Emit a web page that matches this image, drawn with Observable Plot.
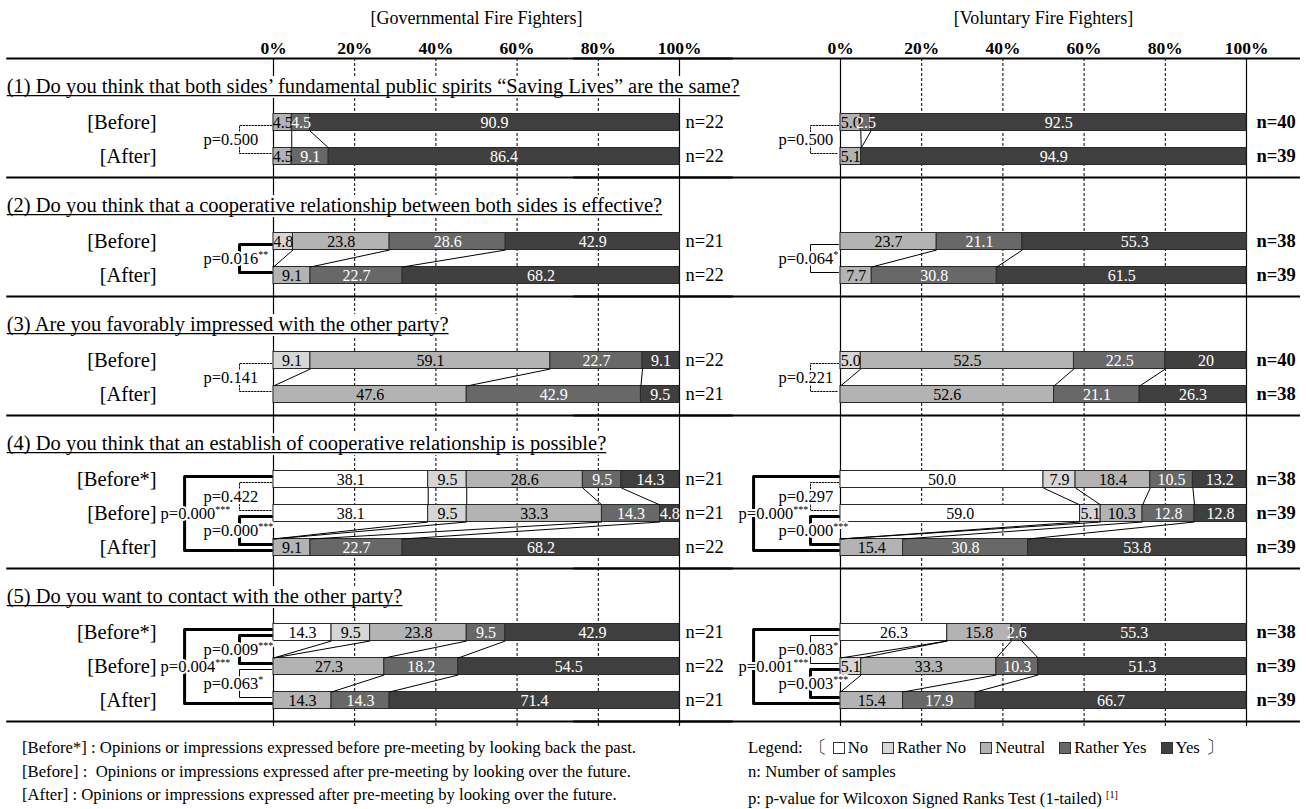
<!DOCTYPE html>
<html>
<head>
<meta charset="utf-8">
<script src="https://cdn.jsdelivr.net/npm/d3@7"></script>
<script src="https://cdn.jsdelivr.net/npm/@observablehq/plot@0.6"></script>
<style>
  body { margin: 0; background: #fff; font-family: "Liberation Serif", "Times New Roman", serif; color: #000; }
  #wrap { position: relative; width: 1306px; height: 809px; overflow: hidden; }
  #chart svg { display: block; }
  #chart svg text { font-family: "Liberation Serif", "Times New Roman", serif; }
  .foot { position: absolute; font-size: 16.7px; line-height: 23.5px; white-space: nowrap; }
  .legend { display: flex; align-items: center; }
  .legend .item { display: inline-flex; align-items: center; margin-right: 14px; }
  .legend .sw { display: inline-block; width: 12px; height: 12px; border: 1px solid #333; margin-right: 3px; box-sizing: border-box; }
  .legend .br { font-size: 18px; margin: 0 6px; }
  sup { font-size: 10px; vertical-align: 6px; }
</style>
</head>
<body>
<div id="wrap">
  <div id="chart"></div>
  <div class="foot" id="notes" style="left:22px; top:736px;"></div>
  <div class="foot" id="keys" style="left:748px; top:736px;"></div>
</div>
<script>
// ---- data ---------------------------------------------------------------
const categories = ["No", "Rather No", "Neutral", "Rather Yes", "Yes"];
const colors = ["#ffffff", "#d6d6d6", "#b3b3b3", "#686868", "#3f3f3f"];
const groups = ["gov", "vol"];
const groupTitles = ["[Governmental Fire Fighters]", "[Voluntary Fire Fighters]"];
const ticks = [0, 20, 40, 60, 80, 100];

const questions = [
  "(1) Do you think that both sides\u2019 fundamental public spirits \u201cSaving Lives\u201d are the same?",
  "(2) Do you think that a cooperative relationship between both sides is effective?",
  "(3) Are you favorably impressed with the other party?",
  "(4) Do you think that an establish of cooperative relationship is possible?",
  "(5) Do you want to contact with the other party?"
];
const rowLabels = [
  ["[Before]", "[After]"],
  ["[Before]", "[After]"],
  ["[Before]", "[After]"],
  ["[Before*]", "[Before]", "[After]"],
  ["[Before*]", "[Before]", "[After]"]
];

// shares per row, in category order (No, Rather No, Neutral, Rather Yes, Yes)
const govValues = [
  [[null, null, "4.5", "4.5", "90.9"], [null, null, "4.5", "9.1", "86.4"]],
  [[null, "4.8", "23.8", "28.6", "42.9"], [null, null, "9.1", "22.7", "68.2"]],
  [[null, "9.1", "59.1", "22.7", "9.1"], [null, null, "47.6", "42.9", "9.5"]],
  [["38.1", "9.5", "28.6", "9.5", "14.3"], ["38.1", "9.5", "33.3", "14.3", "4.8"], [null, null, "9.1", "22.7", "68.2"]],
  [["14.3", "9.5", "23.8", "9.5", "42.9"], [null, null, "27.3", "18.2", "54.5"], [null, null, "14.3", "14.3", "71.4"]]
];
const govN = [[22, 22], [21, 22], [22, 21], [21, 21, 22], [21, 22, 21]];

const volValues = [
  [[null, null, "5.0", "2.5", "92.5"], [null, null, "5.1", null, "94.9"]],
  [[null, null, "23.7", "21.1", "55.3"], [null, null, "7.7", "30.8", "61.5"]],
  [[null, "5.0", "52.5", "22.5", "20"], [null, null, "52.6", "21.1", "26.3"]],
  [["50.0", "7.9", "18.4", "10.5", "13.2"], ["59.0", "5.1", "10.3", "12.8", "12.8"], [null, null, "15.4", "30.8", "53.8"]],
  [["26.3", null, "15.8", "2.6", "55.3"], [null, "5.1", "33.3", "10.3", "51.3"], [null, null, "15.4", "17.9", "66.7"]]
];
const volN = [[40, 39], [38, 39], [40, 38], [38, 39, 39], [38, 39, 39]];

// Wilcoxon tests: [p, stars, first row, second row]
const govTests = [
  [["0.500", "", 0, 1]],
  [["0.016", "**", 0, 1]],
  [["0.141", "", 0, 1]],
  [["0.422", "", 0, 1], ["0.000", "***", 1, 2], ["0.000", "***", 0, 2]],
  [["0.009", "***", 0, 1], ["0.063", "*", 1, 2], ["0.004", "***", 0, 2]]
];
const volTests = [
  [["0.500", "", 0, 1]],
  [["0.064", "*", 0, 1]],
  [["0.221", "", 0, 1]],
  [["0.297", "", 0, 1], ["0.000", "***", 1, 2], ["0.000", "***", 0, 2]],
  [["0.083", "*", 0, 1], ["0.003", "***", 1, 2], ["0.001", "***", 0, 2]]
];

// ---- layout -------------------------------------------------------------
const width = 1306, height = 728;
const marginLeft = 272, marginRight = 60;
const padInner = 0.284;
const step = (width - marginLeft - marginRight) / (2 - padInner);
const bandwidth = step * (1 - padInner);
const px = v => v * 100 / bandwidth;         // pixel offset -> percent units
const barH = 17;
const serif = "'Liberation Serif', 'Times New Roman', serif";

const lineTop = 58;
let cursor = lineTop;
const sepYs = [lineTop];
const sections = questions.map((q, i) => {
  const headerY = cursor + 28;
  const rowYs = rowLabels[i].map((_, j) => headerY + 36 + j * 34);
  cursor = rowYs[rowYs.length - 1] + 21;
  sepYs.push(cursor);
  return {group: "gov", q, headerY, rowYs};
});

// annotation geometry per panel (pixels relative to the 0% line)
const geo = {
  gov: {inV: -34, outV: -89, inText: -70, outText: -113, nDx: 6},
  vol: {inV: -30, outV: -87, inText: -62, outText: -102, nDx: 10}
};

const segments = [], links = [], nLabels = [], bracketPts = [], pLabels = [], rowText = [];
[["gov", govValues, govN, govTests], ["vol", volValues, volN, volTests]].forEach(([g, vals, ns, tests]) => {
  vals.forEach((rows, qi) => {
    const ys = sections[qi].rowYs;
    const bounds = rows.map((row, ri) => {
      let acc = 0;
      return row.map((s, ci) => {
        if (s != null) {
          const v = +s;
          segments.push({group: g, cat: categories[ci], ci, x1: acc, x2: acc + v, y: ys[ri], label: s});
          acc += v;
        }
        return acc;
      });
    });
    for (let ri = 0; ri < rows.length - 1; ri++) {
      for (let k = 0; k < 4; k++) {
        links.push({group: g, x1: bounds[ri][k], x2: bounds[ri + 1][k], y1: ys[ri] + barH / 2, y2: ys[ri + 1] - barH / 2});
      }
    }
    ns[qi].forEach((n, ri) => nLabels.push({group: g, y: ys[ri], text: `n=${n}`}));
    if (g === "gov") rowLabels[qi].forEach((t, ri) => rowText.push({group: g, y: ys[ri], text: t}));
    tests[qi].forEach(([p, stars, a, b], ti) => {
      const outer = b - a > 1;
      const G = geo[g];
      const v = px(outer ? G.outV : G.inV), end = px(-2);
      const yt = ys[a] + (outer ? -3 : 3), yb = ys[b] + (outer ? 3 : -3);
      const style = stars === "" ? "dotted" : stars === "*" ? "thin" : "thick";
      const id = `${g}-${qi}-${ti}`;
      [[end, yt], [v, yt], [v, yb], [end, yb]].forEach(([x, y]) => bracketPts.push({group: g, id, style, x, y}));
      pLabels.push({
        group: g,
        x: px(outer ? G.outText : G.inText),
        y: outer ? ys[a + 1] : (ys[a] + ys[b]) / 2,
        text: `p=${p}${stars}`
      });
    });
  });
});

const lightCats = new Set(["No", "Rather No", "Neutral"]);
const xLeftEdge = px(5 - marginLeft), xRightEdge = 100 + px(54);

const plot = Plot.plot({
  width, height,
  marginLeft, marginRight, marginTop: lineTop, marginBottom: 0,
  style: {fontFamily: serif, fontSize: "17px", color: "#000", background: "#fff", overflow: "visible"},
  fx: {domain: groups, paddingInner: padInner, paddingOuter: 0, axis: null, label: null},
  x: {domain: [0, 100], axis: null},
  y: {type: "identity", axis: null},
  color: {domain: categories, range: colors},
  marks: [
    // vertical guides
    Plot.ruleX([20, 40, 60, 80], {x: d => d, y1: lineTop, y2: sepYs[sepYs.length - 1] + 5, stroke: "#000", strokeWidth: 1, strokeDasharray: "3,2"}),
    Plot.ruleX([0, 100], {x: d => d, y1: lineTop, y2: sepYs[sepYs.length - 1] + 5, stroke: "#000", strokeWidth: 1.2}),
    // section separators
    Plot.ruleY(sepYs, {y: d => d, x1: xLeftEdge, x2: xRightEdge, stroke: "#000", strokeWidth: 1.8}),
    // stacked bars
    Plot.rect(segments, {fx: "group", x1: "x1", x2: "x2", y1: d => d.y - barH / 2, y2: d => d.y + barH / 2, fill: "cat", stroke: "#2a2a2a", strokeWidth: 1}),
    Plot.text(segments.filter(d => lightCats.has(d.cat)), {fx: "group", x: d => (d.x1 + d.x2) / 2, y: "y", text: "label", fill: "#000", fontSize: 16, fontFamily: serif}),
    Plot.text(segments.filter(d => !lightCats.has(d.cat)), {fx: "group", x: d => (d.x1 + d.x2) / 2, y: "y", text: "label", fill: "#fff", fontSize: 16, fontFamily: serif}),
    // connectors between category boundaries of successive rows
    Plot.link(links, {fx: "group", x1: "x1", y1: "y1", x2: "x2", y2: "y2", stroke: "#000", strokeWidth: 1}),
    // test brackets
    Plot.line(bracketPts.filter(d => d.style === "dotted"), {fx: "group", x: "x", y: "y", z: "id", stroke: "#000", strokeWidth: 1, strokeDasharray: "1.5,1.5"}),
    Plot.line(bracketPts.filter(d => d.style === "thin"), {fx: "group", x: "x", y: "y", z: "id", stroke: "#000", strokeWidth: 1}),
    Plot.line(bracketPts.filter(d => d.style === "thick"), {fx: "group", x: "x", y: "y", z: "id", stroke: "#000", strokeWidth: 3}),
    Plot.text(pLabels, {fx: "group", x: "x", y: "y", text: "text", textAnchor: "start", fontSize: 16.5, fontFamily: serif, stroke: "#fff", strokeWidth: 4, paintOrder: "stroke", fill: "#000"}),
    // sample sizes
    Plot.text(nLabels.filter(d => d.group === "gov"), {fx: "group", x: 100 + px(geo.gov.nDx), y: "y", text: "text", textAnchor: "start", fontSize: 18.5, fontFamily: serif}),
    Plot.text(nLabels.filter(d => d.group === "vol"), {fx: "group", x: 100 + px(geo.vol.nDx), y: "y", text: "text", textAnchor: "start", fontSize: 18.5, fontWeight: "bold", fontFamily: serif}),
    // row and question labels
    Plot.text(rowText, {fx: "group", x: px(155 - marginLeft), y: "y", text: "text", textAnchor: "end", fontSize: 20.5, fontFamily: serif}),
    Plot.text(sections, {fx: "group", x: xLeftEdge, y: "headerY", text: "q", textAnchor: "start", fontSize: 20.5, fontFamily: serif, fill: "#000"}),
    // panel titles and percentage axis
    Plot.text(groups, {fx: d => d, x: 50, y: 18, text: (d, i) => groupTitles[i], fontSize: 18, fontFamily: serif}),
    Plot.axisX(ticks, {anchor: "top", tickSize: 0, tickPadding: 5, tickFormat: d => d + "%", fontSize: 17.5, fontWeight: "bold", fontFamily: serif, label: null})
  ]
});

document.getElementById("chart").appendChild(plot);

// superscript significance stars; questions get a white backing box and an underline
const ns = "http://www.w3.org/2000/svg";
plot.querySelectorAll("text").forEach(t => {
  const s = t.textContent;
  const m = /^(p=[\d.]+)(\*+)$/.exec(s);
  if (m) {
    t.textContent = "";
    const a = document.createElementNS(ns, "tspan");
    a.textContent = m[1];
    const b = document.createElementNS(ns, "tspan");
    b.textContent = m[2];
    b.setAttribute("font-size", "10");
    b.setAttribute("dy", "-6");
    t.appendChild(a); t.appendChild(b);
  } else if (/^\(\d\) /.test(s)) {
    const bb = t.getBBox();
    const tr = t.getAttribute("transform");
    const g = t.parentNode;
    const r = document.createElementNS(ns, "rect");
    r.setAttribute("x", bb.x - 2); r.setAttribute("y", bb.y + 1);
    r.setAttribute("width", bb.width + 4); r.setAttribute("height", bb.height - 1);
    r.setAttribute("fill", "#fff");
    if (tr) r.setAttribute("transform", tr);
    g.insertBefore(r, g.firstChild);
    const l = document.createElementNS(ns, "line");
    const uy = bb.y + bb.height - 2.5;
    l.setAttribute("x1", bb.x); l.setAttribute("x2", bb.x + bb.width);
    l.setAttribute("y1", uy); l.setAttribute("y2", uy);
    l.setAttribute("stroke", "#000"); l.setAttribute("stroke-width", "1.2");
    if (tr) l.setAttribute("transform", tr);
    g.appendChild(l);
  }
});

// ---- notes and legend below the chart ----------------------------------
const notes = [
  "[Before*] : Opinions or impressions expressed before pre-meeting by looking back the past.",
  "[Before] :\u00a0 Opinions or impressions expressed after pre-meeting by looking over the future.",
  "[After] : Opinions or impressions expressed after pre-meeting by looking over the future."
];
d3.select("#notes").selectAll("div").data(notes).join("div").text(d => d);

const keys = d3.select("#keys");
const leg = keys.append("div").attr("class", "legend");
leg.append("span").text("Legend:");
leg.append("span").attr("class", "br").text("\u3014");
categories.forEach((c, i) => {
  const it = leg.append("span").attr("class", "item");
  it.append("span").attr("class", "sw").style("background", colors[i]);
  it.append("span").text(c);
});
leg.select(".item:last-of-type").style("margin-right", "0");
leg.append("span").attr("class", "br").text("\u3015");
keys.append("div").text("n: Number of samples");
keys.append("div").html("p: p-value for Wilcoxon Signed Ranks Test (1-tailed) <sup>[1]</sup>");
</script>
</body>
</html>
